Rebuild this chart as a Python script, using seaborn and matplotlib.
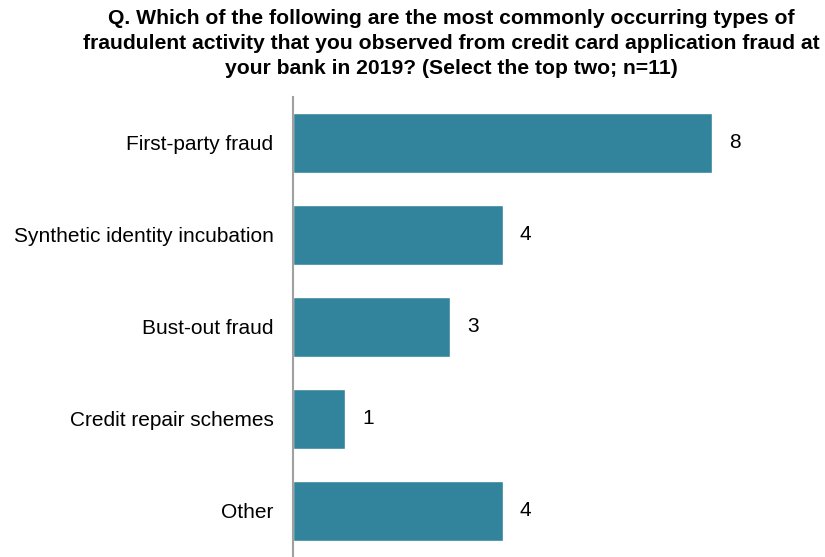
import matplotlib
matplotlib.use("Agg")
import matplotlib.pyplot as plt
import seaborn as sns
import pandas as pd

categories = ["First-party fraud", "Synthetic identity incubation", "Bust-out fraud",
              "Credit repair schemes", "Other"]
values = [8, 4, 3, 1, 4]
title = ("Q. Which of the following are the most commonly occurring types of\n"
         "fraudulent activity that you observed from credit card application fraud at\n"
         "your bank in 2019? (Select the top two; n=11)")

sns.set_theme(style="white")
plt.rcParams['font.family'] = ['Liberation Sans', 'DejaVu Sans']

df = pd.DataFrame({"category": categories, "value": values})

fig = plt.figure(figsize=(8.25, 5.57), dpi=100)
ax = fig.add_axes([293/825, 0.0, 1 - 293/825 - 0.01, 1 - 97/557])
sns.barplot(data=df, x="value", y="category", color="#31849B", saturation=1,
            width=0.66, ax=ax, orient="h")
ax.set_xlim(0, 10)
ax.set_ylim(4.5, -0.5)
ax.set_xlabel("")
ax.set_ylabel("")
ax.set_xticks([])
for s in ["top", "right", "bottom"]:
    ax.spines[s].set_visible(False)
ax.spines["left"].set_color("#A0A0A0")
ax.spines["left"].set_linewidth(1.5)
ax.tick_params(axis="y", length=0, pad=14, labelsize=15, labelcolor="#000000")
for c in ax.containers:
    ax.bar_label(c, labels=[str(v) for v in values], padding=12, fontsize=15, color="#000000")

fig.text(451/825, 1 - 9/557, title, ha="center", va="top", fontsize=15.2, fontweight="bold",
         linespacing=1.4, color="#000000")
fig.savefig("out.png", dpi=100)
